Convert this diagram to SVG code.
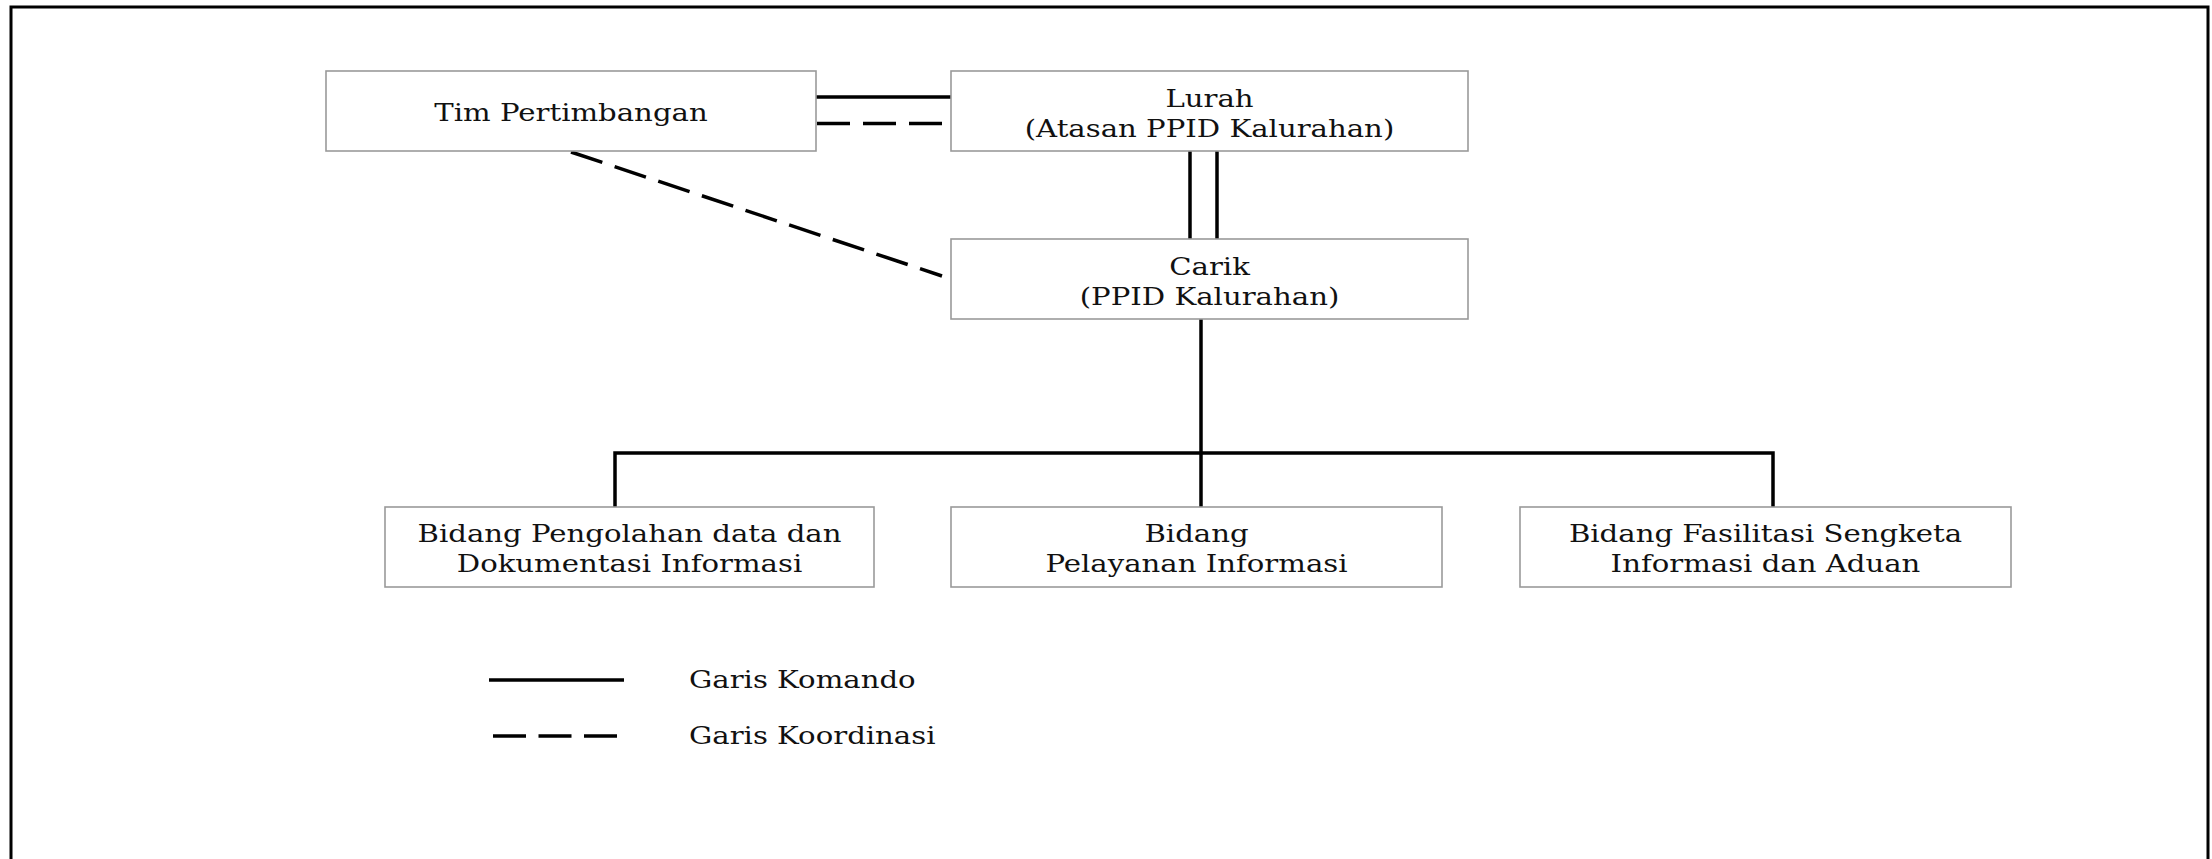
<svg xmlns="http://www.w3.org/2000/svg" width="2212" height="859" viewBox="0 0 2212 859">
<style>
.box{fill:#fff;stroke:#9a9a9a;stroke-width:1.6}
.t{font-family:"DejaVu Serif",serif;font-size:24px;fill:#111;text-anchor:middle}
.ts{font-family:"DejaVu Serif",serif;font-size:24px;fill:#111;text-anchor:start}
.cmd{fill:none;stroke:#000;stroke-width:3.5}
.crd{fill:none;stroke:#000;stroke-width:3.5;stroke-dasharray:33 13}
</style>
<rect width="2212" height="859" fill="#fff"/>
<path d="M11,859 V7 H2208 V859" fill="none" stroke="#000" stroke-width="3"/>
<g id="connectors">
<line class="cmd" x1="816" y1="97" x2="951" y2="97"/>
<line class="crd" x1="817" y1="123.5" x2="943" y2="123.5"/>
<line class="crd" x1="571" y1="152" x2="942" y2="276"/>
<line class="cmd" x1="1190" y1="151" x2="1190" y2="239"/>
<line class="cmd" x1="1217" y1="151" x2="1217" y2="239"/>
<line class="cmd" x1="1201" y1="319" x2="1201" y2="507"/>
<path class="cmd" d="M615,507 V453 H1773 V507"/>
</g>
<g id="tim">
<rect class="box" x="326" y="71" width="490" height="80"/>
<text class="t" transform="matrix(1.215 0 0 1 571 121)">Tim Pertimbangan</text>
</g>
<g id="lurah">
<rect class="box" x="951" y="71" width="517" height="80"/>
<text class="t" transform="matrix(1.215 0 0 1 1209.5 106.7)">Lurah</text>
<text class="t" transform="matrix(1.215 0 0 1 1209.5 136.7)">(Atasan PPID Kalurahan)</text>
</g>
<g id="carik">
<rect class="box" x="951" y="239" width="517" height="80"/>
<text class="t" transform="matrix(1.215 0 0 1 1209.5 274.5)">Carik</text>
<text class="t" transform="matrix(1.215 0 0 1 1209.5 304.5)">(PPID Kalurahan)</text>
</g>
<g id="bidang-pengolahan">
<rect class="box" x="385" y="507" width="489" height="80"/>
<text class="t" transform="matrix(1.215 0 0 1 629.5 542.2)">Bidang Pengolahan data dan</text>
<text class="t" transform="matrix(1.215 0 0 1 629.5 572.2)">Dokumentasi Informasi</text>
</g>
<g id="bidang-pelayanan">
<rect class="box" x="951" y="507" width="491" height="80"/>
<text class="t" transform="matrix(1.215 0 0 1 1196.5 542.2)">Bidang</text>
<text class="t" transform="matrix(1.215 0 0 1 1196.5 572.2)">Pelayanan Informasi</text>
</g>
<g id="bidang-fasilitasi">
<rect class="box" x="1520" y="507" width="491" height="80"/>
<text class="t" transform="matrix(1.215 0 0 1 1765.5 542.2)">Bidang Fasilitasi Sengketa</text>
<text class="t" transform="matrix(1.215 0 0 1 1765.5 572.2)">Informasi dan Aduan</text>
</g>
<g id="legend">
<line class="cmd" x1="489" y1="680" x2="624" y2="680"/>
<line class="crd" x1="493" y1="736" x2="619" y2="736" style="stroke-dasharray:33 12.5"/>
<text class="ts" transform="matrix(1.215 0 0 1 689 688)">Garis Komando</text>
<text class="ts" transform="matrix(1.215 0 0 1 689 744)">Garis Koordinasi</text>
</g>
</svg>
